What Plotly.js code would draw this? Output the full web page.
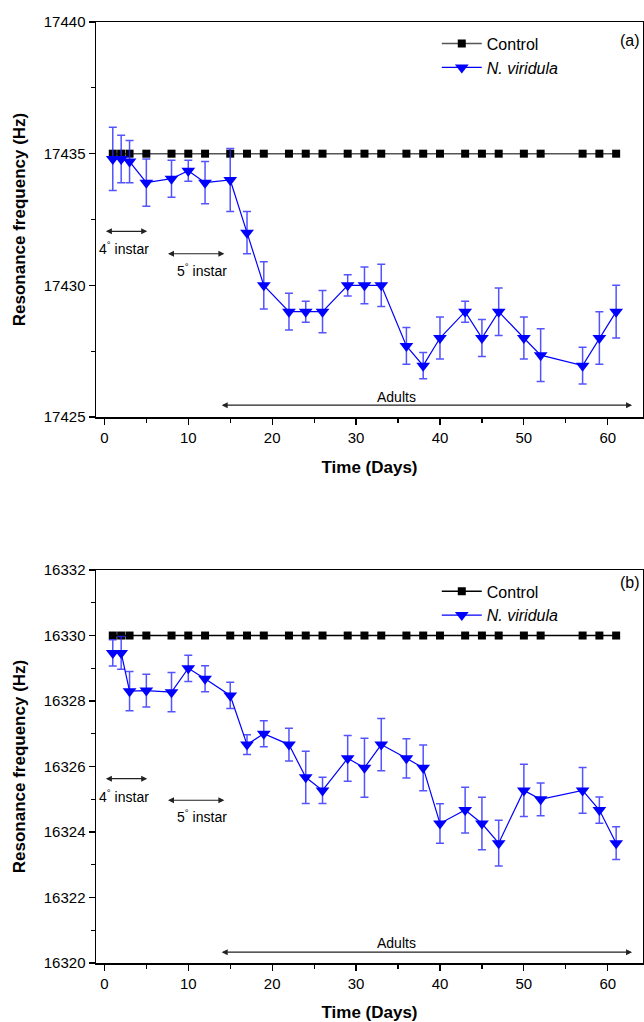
<!DOCTYPE html>
<html>
<head>
<meta charset="utf-8">
<script src="https://cdn.plot.ly/plotly-3.0.1.min.js"></script>
<style>
  html, body { margin: 0; padding: 0; background: #fff; }
  #chart { width: 644px; height: 1022px; }
</style>
</head>
<body>
<div id="chart"></div>
<script>
// ---- data ----
const days = [1, 2, 3, 5, 8, 10, 12, 15, 17, 19, 22, 24, 26, 29, 31, 33, 36, 38, 40, 43, 45, 47, 50, 52, 57, 59, 61];

const controlA = [17435, 17435, 17435, 17435, 17435, 17435, 17435, 17435, 17435, 17435, 17435, 17435, 17435, 17435,
                  17435, 17435, 17435, 17435, 17435, 17435, 17435, 17435, 17435, 17435, 17435, 17435, 17435];
const viridulaA = [17434.8, 17434.8, 17434.7, 17433.9, 17434.05, 17434.35, 17433.9, 17434.0, 17432.0, 17430.0,
                   17429.0, 17429.0, 17429.0, 17430.0, 17430.0, 17430.0, 17427.7, 17426.95, 17428.0, 17429.0,
                   17428.0, 17429.0, 17428.0, 17427.35, 17426.95, 17428.0, 17429.0];
const errA = [1.2, 0.9, 0.8, 0.9, 0.7, 0.4, 0.8, 1.2, 0.8, 0.9, 0.7, 0.4, 0.8, 0.4, 0.7, 0.8, 0.7, 0.5, 0.8, 0.4,
              0.7, 0.9, 0.8, 1.0, 0.7, 1.0, 1.0];

const controlB = [16330, 16330, 16330, 16330, 16330, 16330, 16330, 16330, 16330, 16330, 16330, 16330, 16330, 16330,
                  16330, 16330, 16330, 16330, 16330, 16330, 16330, 16330, 16330, 16330, 16330, 16330, 16330];
const viridulaB = [16329.47, 16329.47, 16328.3, 16328.32, 16328.27, 16329.0, 16328.68, 16328.17, 16326.67, 16327.0,
                   16326.67, 16325.67, 16325.27, 16326.25, 16325.96, 16326.67, 16326.25, 16325.96, 16324.26, 16324.67,
                   16324.26, 16323.66, 16325.27, 16325.0, 16325.27, 16324.67, 16323.66];
const errB = [0.4, 0.5, 0.6, 0.5, 0.6, 0.4, 0.4, 0.4, 0.3, 0.4, 0.5, 0.8, 0.4, 0.7, 0.9, 0.8, 0.6, 0.7, 0.6, 0.7,
              0.8, 0.7, 0.8, 0.5, 0.7, 0.4, 0.5];

const seriesNames = ['Control', '<i>N. viridula</i>'];
const xTickVals = [0, 10, 20, 30, 40, 50, 60];
const yTicksA = [17425, 17430, 17435, 17440];
const yTicksB = [16320, 16322, 16324, 16326, 16328, 16330, 16332];
const panelLabels = ['(a)', '(b)'];
const stageLabels = ['4<sup>°</sup> instar', '5<sup>°</sup> instar', 'Adults'];
// stage spans (days) and label heights per panel
const stageSpans = [[0, 5.1], [7.4, 14.3], [13.8, 62.9]];
const stageArrowYA = [17432.05, 17431.2, 17425.45];
const stageTextYA = [17431.4, 17430.6, 17425.75];
const stageArrowYB = [16325.63, 16324.97, 16320.33];
const stageTextYB = [16325.11, 16324.48, 16320.6];
const stageTextX = [2.3, 11.6, 34.8];

// ---- styles ----
const FONT = 'Liberation Sans, Arial, sans-serif';
const BLUE = '#0000ff';

function controlTrace(y, xa, ya, lg, lineColor) {
  return {
    x: days, y: y, xaxis: xa, yaxis: ya, legend: lg, name: seriesNames[0],
    type: 'scatter', mode: 'lines+markers',
    line: { color: lineColor, width: 1.5 },
    marker: { symbol: 'square', size: 8, color: '#000' }
  };
}
function viridulaTrace(y, err, xa, ya, lg) {
  return {
    x: days, y: y, xaxis: xa, yaxis: ya, legend: lg, name: seriesNames[1],
    type: 'scatter', mode: 'lines+markers',
    line: { color: BLUE, width: 1.2 },
    marker: { symbol: 'triangle-down', size: 12, color: BLUE },
    error_y: { type: 'data', array: err, visible: true, color: 'rgba(40,40,255,0.8)', thickness: 1.5, width: 4 }
  };
}

const traces = [
  controlTrace(controlA, 'x', 'y', 'legend', '#555'),
  viridulaTrace(viridulaA, errA, 'x', 'y', 'legend'),
  controlTrace(controlB, 'x2', 'y2', 'legend2', '#000'),
  viridulaTrace(viridulaB, errB, 'x2', 'y2', 'legend2')
];

function xAxis(anchor) {
  return {
    anchor: anchor, domain: [0, 1], range: [-1, 64.2],
    tickmode: 'array', tickvals: xTickVals, ticks: 'outside', ticklen: 6, tickwidth: 1.2, tickcolor: '#000',
    minor: { dtick: 5, tick0: 0, ticks: 'outside', ticklen: 4, tickwidth: 1.2, tickcolor: '#000', showgrid: false },
    showline: true, linecolor: '#000', linewidth: 1.5, mirror: true, showgrid: false, zeroline: false,
    tickfont: { family: FONT, size: 15, color: '#000' },
    title: { text: '<b>Time (Days)</b>', font: { family: FONT, size: 17, color: '#000' }, standoff: 16 },
    automargin: false
  };
}
function yAxis(anchor, domain, range, tickvals, minorDt) {
  return {
    anchor: anchor, domain: domain, range: range,
    tickmode: 'array', tickvals: tickvals, ticktext: tickvals.map(String),
    ticks: 'outside', ticklen: 6, tickwidth: 1.2, tickcolor: '#000',
    minor: { dtick: minorDt, tick0: range[0], ticks: 'outside', ticklen: 4, tickwidth: 1.2, tickcolor: '#000', showgrid: false },
    showline: true, linecolor: '#000', linewidth: 1.5, mirror: true, showgrid: false, zeroline: false,
    tickfont: { family: FONT, size: 15, color: '#000' },
    title: { text: '<b>Resonance frequency (Hz)</b>', font: { family: FONT, size: 17, color: '#000' }, standoff: 14 },
    automargin: false
  };
}

const annotations = [];
function addStages(xr, yr, arrowY, textY) {
  for (let i = 0; i < stageLabels.length; i++) {
    annotations.push({
      xref: xr, yref: yr, axref: xr, ayref: yr,
      x: stageSpans[i][1], y: arrowY[i], ax: stageSpans[i][0], ay: arrowY[i],
      text: '', showarrow: true, arrowhead: 2, arrowside: 'end+start', arrowsize: 1, arrowwidth: 1.2,
      arrowcolor: '#222', standoff: 0, startstandoff: 0
    });
    annotations.push({
      xref: xr, yref: yr, x: stageTextX[i], y: textY[i], text: stageLabels[i], showarrow: false,
      xanchor: 'center', yanchor: 'middle',
      font: { family: FONT, size: 14, color: '#000' }
    });
  }
}
addStages('x', 'y', stageArrowYA, stageTextYA);
addStages('x2', 'y2', stageArrowYB, stageTextYB);
annotations.push({ xref: 'x domain', yref: 'y domain', x: 0.976, y: 0.954, xanchor: 'center', yanchor: 'middle',
  text: panelLabels[0], showarrow: false, font: { family: FONT, size: 16, color: '#000' } });
annotations.push({ xref: 'x2 domain', yref: 'y2 domain', x: 0.976, y: 0.995, xanchor: 'center', yanchor: 'top',
  text: panelLabels[1], showarrow: false, font: { family: FONT, size: 16, color: '#000' } });

const legendStyle = (y) => ({
  x: 0.623, y: y, xanchor: 'left', yanchor: 'top', bgcolor: 'rgba(0,0,0,0)', borderwidth: 0,
  font: { family: FONT, size: 16, color: '#000' }, tracegroupgap: 0, itemwidth: 40
});

const layout = {
  width: 644, height: 1022,
  margin: { l: 96, r: 1, t: 22, b: 59 },
  paper_bgcolor: '#fff', plot_bgcolor: '#fff',
  showlegend: true,
  xaxis: xAxis('y'),
  yaxis: yAxis('x', [0.5802, 1], [17425, 17440], yTicksA, 2.5),
  xaxis2: xAxis('y2'),
  yaxis2: yAxis('x2', [0, 0.4176], [16320, 16332], yTicksB, 1),
  legend: legendStyle(0.995),
  legend2: legendStyle(0.413),
  annotations: annotations
};

Plotly.newPlot('chart', traces, layout, { displayModeBar: false, staticPlot: true });
</script>
</body>
</html>
